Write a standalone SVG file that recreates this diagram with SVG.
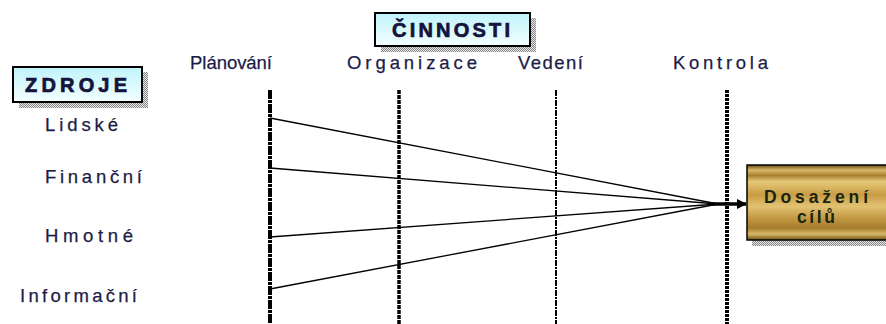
<svg xmlns="http://www.w3.org/2000/svg" width="886" height="324" viewBox="0 0 886 324">
  <style>
    .lbl { font-family: "Liberation Sans", Arial, sans-serif; font-size: 18.5px; fill: #1c1c48; stroke: #1c1c48; stroke-width: 0.25; }
    .hdr { font-family: "Liberation Sans", Arial, sans-serif; font-size: 20px; font-weight: bold; fill: #14143c; stroke: #14143c; stroke-width: 0.7; }
    .goal { font-family: "Liberation Sans", Arial, sans-serif; font-size: 17.5px; font-weight: bold; fill: #1a2410; }
    .col { fill: none; stroke: #000; }
    .flow { fill: none; stroke: #000; stroke-width: 1.3; }
  </style>
  <defs>
    <pattern id="dots" width="2" height="2" patternUnits="userSpaceOnUse">
      <rect width="2" height="2" fill="#e4e4e4"/>
      <rect width="1" height="1" fill="#8a8a8a"/>
      <rect x="1" y="1" width="1" height="1" fill="#8a8a8a"/>
    </pattern>
    <linearGradient id="cyan" x1="0" y1="0" x2="0" y2="1">
      <stop offset="0" stop-color="#bff4fa"/>
      <stop offset="1" stop-color="#f4feff"/>
    </linearGradient>
    <linearGradient id="gold" x1="0" y1="0" x2="0" y2="1">
      <stop offset="0" stop-color="#6e5014"/>
      <stop offset="0.07" stop-color="#d8b868"/>
      <stop offset="0.14" stop-color="#a88030"/>
      <stop offset="0.22" stop-color="#e6c878"/>
      <stop offset="0.4" stop-color="#c89c44"/>
      <stop offset="0.55" stop-color="#e2c272"/>
      <stop offset="0.72" stop-color="#c09640"/>
      <stop offset="0.84" stop-color="#a47c2c"/>
      <stop offset="0.92" stop-color="#d8b868"/>
      <stop offset="1" stop-color="#6e5014"/>
    </linearGradient>
    <marker id="arrow" viewBox="0 0 10 10" refX="9" refY="5" markerWidth="3" markerHeight="3" orient="auto">
      <path d="M0,0 L10,5 L0,10 z" fill="#000"/>
    </marker>
  </defs>

  <!-- header boxes -->
  <g id="cinnosti">
    <rect x="381" y="18" width="155" height="34" fill="url(#dots)"/>
    <rect x="375" y="13" width="155" height="33" fill="url(#cyan)" stroke="#000" stroke-width="2"/>
    <text class="hdr" x="451" y="37" text-anchor="middle" textLength="118" lengthAdjust="spacing">ČINNOSTI</text>
  </g>
  <g id="zdroje">
    <rect x="19" y="72" width="129" height="36" fill="url(#dots)"/>
    <rect x="13" y="67" width="129" height="35" fill="url(#cyan)" stroke="#000" stroke-width="2"/>
    <text class="hdr" x="76" y="92" text-anchor="middle" textLength="102" lengthAdjust="spacing">ZDROJE</text>
  </g>

  <!-- activity columns -->
  <g id="planovani">
    <text class="lbl" x="190" y="69" textLength="82" lengthAdjust="spacing">Plánování</text>
    <line class="col" x1="270" y1="90" x2="270" y2="324" stroke-width="4" stroke-dasharray="9 1 3 1"/>
  </g>
  <g id="organizace">
    <text class="lbl" x="347" y="69" textLength="130" lengthAdjust="spacing">Organizace</text>
    <line class="col" x1="399" y1="90" x2="399" y2="324" stroke-width="3.5" stroke-dasharray="4 1"/>
  </g>
  <g id="vedeni">
    <text class="lbl" x="518" y="69" textLength="65" lengthAdjust="spacing">Vedení</text>
    <line class="col" x1="556" y1="90" x2="556" y2="324" stroke-width="2" stroke-dasharray="6 1 2 1"/>
  </g>
  <g id="kontrola">
    <text class="lbl" x="673" y="69" textLength="95" lengthAdjust="spacing">Kontrola</text>
    <line class="col" x1="727" y1="90" x2="727" y2="324" stroke-width="4" stroke-dasharray="3 1"/>
  </g>

  <!-- resources -->
  <g id="lidske"><text class="lbl" x="45" y="131" textLength="73" lengthAdjust="spacing">Lidské</text></g>
  <g id="financni"><text class="lbl" x="45" y="183" textLength="97" lengthAdjust="spacing">Finanční</text></g>
  <g id="hmotne"><text class="lbl" x="45" y="242" textLength="88" lengthAdjust="spacing">Hmotné</text></g>
  <g id="informacni"><text class="lbl" x="20" y="302" textLength="117" lengthAdjust="spacing">Informační</text></g>

  <!-- goal -->
  <g id="dosazeni-cilu">
    <rect x="752" y="170" width="140" height="76" fill="url(#dots)"/>
    <rect x="747" y="165" width="140" height="75" fill="url(#gold)" stroke="#000" stroke-width="1.5"/>
    <text class="goal" x="816" y="203" text-anchor="middle" textLength="104" lengthAdjust="spacing">Dosažení</text>
    <text class="goal" x="816" y="223" text-anchor="middle" textLength="38" lengthAdjust="spacing">cílů</text>
  </g>

  <!-- connectors -->
  <g id="connectors">
    <line class="flow" x1="270" y1="118" x2="718" y2="204"/>
    <line class="flow" x1="270" y1="168" x2="718" y2="204"/>
    <line class="flow" x1="270" y1="237" x2="718" y2="204"/>
    <line class="flow" x1="270" y1="289" x2="718" y2="204"/>
    <line x1="712" y1="204" x2="746" y2="204" stroke="#000" stroke-width="3.5" marker-end="url(#arrow)"/>
  </g>
</svg>
